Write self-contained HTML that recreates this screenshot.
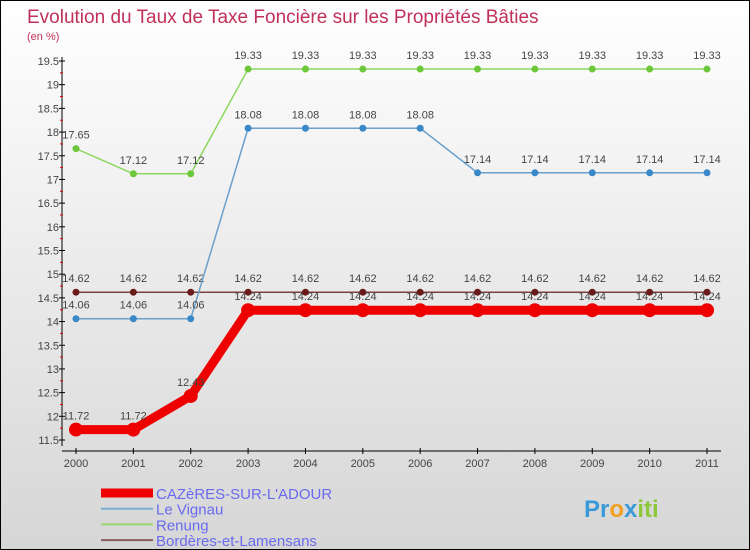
<!DOCTYPE html>
<html><head><meta charset="utf-8"><style>
body{margin:0}
#c{width:750px;height:550px;position:relative;box-sizing:border-box;border:1px solid #000;background:linear-gradient(#fff,#d6d6d6);font-family:"Liberation Sans",sans-serif;overflow:hidden}
svg{position:absolute;left:0;top:0}
</style></head><body>
<div id="c">
<svg id="s" width="750" height="550">
<text x="26" y="22" font-size="19" fill="#c0305a">Evolution du Taux de Taxe Foncière sur les Propriétés Bâties</text>
<text x="26" y="39" font-size="11" fill="#c0305a">(en %)</text>
<text x="583" y="516" font-size="24" font-weight="bold"><tspan fill="#3a9ad8">Pr</tspan><tspan fill="#f0a020">o</tspan><tspan fill="#3a9ad8">x</tspan><tspan fill="#8cc83a">iti</tspan></text>
</svg>
</div>
<script>
const years=[2000,2001,2002,2003,2004,2005,2006,2007,2008,2009,2010,2011];
const yTicks=[11.5,12,12.5,13,13.5,14,14.5,15,15.5,16,16.5,17,17.5,18,18.5,19,19.5];
const cazeres=[11.72,11.72,12.43,14.24,14.24,14.24,14.24,14.24,14.24,14.24,14.24,14.24];
const vignau=[14.06,14.06,14.06,18.08,18.08,18.08,18.08,17.14,17.14,17.14,17.14,17.14];
const renung=[17.65,17.12,17.12,19.33,19.33,19.33,19.33,19.33,19.33,19.33,19.33,19.33];
const borderes=[14.62,14.62,14.62,14.62,14.62,14.62,14.62,14.62,14.62,14.62,14.62,14.62];
const seriesNames=["CAZèRES-SUR-L'ADOUR","Le Vignau","Renung","Bordères-et-Lamensans"];
const svg=document.getElementById('s');const NS='http://www.w3.org/2000/svg';
const X=i=>75+i*(706-75)/11;const Y=v=>439-(v-11.5)*(379/8);
function mk(t,a,p){const e=document.createElementNS(NS,t);for(const k in a)e.setAttribute(k,a[k]);(p||svg).appendChild(e);return e;}
let ax=mk('line',{x1:61,y1:56,x2:61,y2:445,stroke:'#000'});


let xa=mk('line',{x1:61,y1:450,x2:720,y2:450,stroke:'#000'});


yTicks.forEach((v,i)=>{
 mk('line',{x1:58,y1:Y(v),x2:64,y2:Y(v),stroke:'#000'});
 if(i<yTicks.length-1)mk('line',{x1:59,y1:Y(v+0.25),x2:62,y2:Y(v+0.25),stroke:'#d00'});
 const t=mk('text',{x:58,y:Y(v)+4,'text-anchor':'end','font-size':11,fill:'#444'});t.textContent=v;
 
 
});
years.forEach((y,i)=>{
 mk('line',{x1:X(i),y1:447,x2:X(i),y2:453,stroke:'#000'});
 const t=mk('text',{x:X(i),y:466,'text-anchor':'middle','font-size':11,fill:'#444'});t.textContent=y;
 
 
});
function series(d,col,w,r,dot,name){
 const g=mk('g',{});
 
 
 mk('polyline',{points:d.map((v,i)=>X(i)+','+Y(v)).join(' '),fill:'none',stroke:col,'stroke-width':w,'stroke-linejoin':'round'},g);
 d.forEach((v,i)=>{
  const c=mk('circle',{cx:X(i),cy:Y(v),r:r,fill:dot},g);
  
  
  const t=mk('text',{x:X(i),y:Y(v)-10,'text-anchor':'middle','font-size':11,fill:'#444'},g);t.textContent=v;
 });
}
series(borderes,'#7a4040',1.5,3.5,'#6b1a1a','series-borderes');
series(vignau,'#6aa0cc',1.5,3.5,'#3a88c8','series-le-vignau');
series(renung,'#8cd860',1.5,3.5,'#6cc83a','series-renung');
series(cazeres,'#e00',9,7,'#e00','series-cazeres');
const lc=['#e00','#7aaed0','#98d870','#8a5a5a'],lw=[9,2,2,2];
seriesNames.forEach((n,i)=>{
 const y=492+i*15.7;
 const g=mk('g',{});
 
 
 mk('line',{x1:100,y1:y,x2:152,y2:y,stroke:lc[i],'stroke-width':lw[i]},g);
 const t=mk('text',{x:155,y:y+6,'font-size':15,fill:'#6a6af0'},g);t.textContent=n;
});
</script>
</body></html>
